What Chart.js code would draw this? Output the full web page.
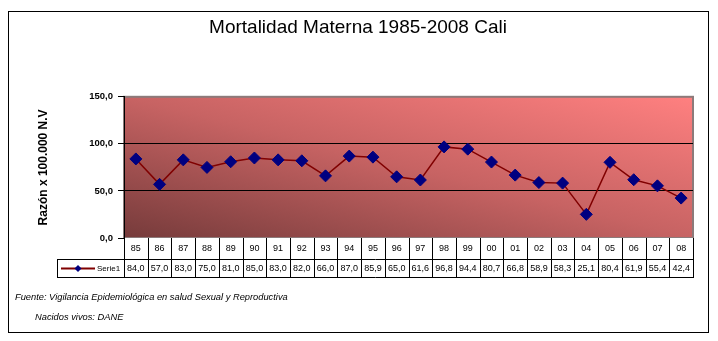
<!DOCTYPE html>
<html>
<head>
<meta charset="utf-8">
<title>Mortalidad Materna 1985-2008 Cali</title>
<script src="https://cdn.jsdelivr.net/npm/chart.js@4"></script>
<style>
  html, body { margin: 0; padding: 0; background: #fff; }
  #wrap { width: 718px; height: 341px; }
</style>
</head>
<body>
<div id="wrap"><canvas id="mortalidadChart" width="718" height="341"></canvas></div>
<script>
// Datos
const anios = ['85','86','87','88','89','90','91','92','93','94','95','96','97','98','99','00','01','02','03','04','05','06','07','08'];
const serie1 = [84.0, 57.0, 83.0, 75.0, 81.0, 85.0, 83.0, 82.0, 66.0, 87.0, 85.9, 65.0, 61.6, 96.8, 94.4, 80.7, 66.8, 58.9, 58.3, 25.1, 80.4, 61.9, 55.4, 42.4];
const ticksY = [0, 50, 100, 150];
const nombreSerie = 'Serie1';
const notas = ['Fuente: Vigilancia Epidemiológica en salud Sexual y Reproductiva', 'Nacidos vivos: DANE'];

function formatoComa(v) {
    return v.toFixed(1).replace('.', ',');
}

// fondo degradado del area de trazado + marco exterior
const fondoPlugin = {
    id: 'fondo',
    beforeDraw(chart) {
        const ctx = chart.ctx;
        const a = chart.chartArea;
        ctx.save();
        ctx.strokeStyle = '#000';
        ctx.lineWidth = 1;
        ctx.strokeRect(8.5, 11.5, 700, 321);

        ctx.save();
        ctx.translate(a.left, a.top);
        ctx.scale(a.right - a.left, a.bottom - a.top);
        let grad = ctx.createLinearGradient(0, 1, 1, 0);
        grad.addColorStop(0, '#763b3b');
        grad.addColorStop(0.5, '#c76363');
        grad.addColorStop(1, '#ff8080');
        ctx.fillStyle = grad;
        ctx.fillRect(0, 0, 1, 1);
        ctx.restore();

        ctx.strokeStyle = '#8c7a7a';
        ctx.lineWidth = 2;
        ctx.strokeRect(a.left, a.top, a.right - a.left, a.bottom - a.top);
        ctx.restore();
    }
};

// tabla de datos debajo del grafico
const tablaPlugin = {
    id: 'tabla',
    afterDraw(chart) {
        const ctx = chart.ctx;
        const a = chart.chartArea;
        const x = chart.scales.x;
        const filaCat = a.bottom;
        const filaVal = a.bottom + 21;
        const fin = a.bottom + 39;
        const leyIzq = 57;

        let bordes = [a.left];
        for (let i = 1; i < anios.length; i++) {
            bordes.push(Math.round((x.getPixelForValue(i - 1) + x.getPixelForValue(i)) / 2));
        }
        bordes.push(a.right);

        ctx.save();
        ctx.fillStyle = '#fff';
        ctx.fillRect(a.left, filaCat, a.right - a.left, fin - filaCat);
        ctx.fillRect(leyIzq, filaVal, a.left - leyIzq, fin - filaVal);

        ctx.strokeStyle = '#000';
        ctx.lineWidth = 1;
        ctx.beginPath();
        for (let b of bordes) {
            ctx.moveTo(Math.round(b) + 0.5, filaCat);
            ctx.lineTo(Math.round(b) + 0.5, fin);
        }
        ctx.moveTo(leyIzq + 0.5, filaVal);
        ctx.lineTo(leyIzq + 0.5, fin);
        ctx.moveTo(leyIzq, filaVal + 0.5);
        ctx.lineTo(a.right + 1, filaVal + 0.5);
        ctx.moveTo(leyIzq, fin + 0.5);
        ctx.lineTo(a.right + 1, fin + 0.5);
        ctx.stroke();

        ctx.fillStyle = '#000';
        ctx.font = '9px "Liberation Sans", Arial, sans-serif';
        ctx.textAlign = 'center';
        ctx.textBaseline = 'middle';
        for (let i = 0; i < anios.length; i++) {
            let cx = x.getPixelForValue(i);
            ctx.fillText(anios[i], cx, filaCat + 11);
            ctx.fillText(formatoComa(serie1[i]), cx, filaVal + 9.5);
        }

        // clave de leyenda
        let ly = filaVal + 9.5;
        ctx.strokeStyle = '#800000';
        ctx.lineWidth = 2;
        ctx.beginPath();
        ctx.moveTo(leyIzq + 4, ly);
        ctx.lineTo(leyIzq + 38, ly);
        ctx.stroke();
        ctx.fillStyle = '#000080';
        ctx.beginPath();
        ctx.moveTo(leyIzq + 21, ly - 3.5);
        ctx.lineTo(leyIzq + 24.5, ly);
        ctx.lineTo(leyIzq + 21, ly + 3.5);
        ctx.lineTo(leyIzq + 17.5, ly);
        ctx.closePath();
        ctx.fill();
        ctx.fillStyle = '#000';
        ctx.font = '8px "Liberation Sans", Arial, sans-serif';
        ctx.textAlign = 'left';
        ctx.fillText(nombreSerie, leyIzq + 40, ly + 0.5);

        // notas al pie
        ctx.font = 'italic 9.3px "Liberation Sans", Arial, sans-serif';
        ctx.textBaseline = 'alphabetic';
        ctx.fillText(notas[0], 15, 300);
        ctx.fillText(notas[1], 35, 320);
        ctx.restore();
    }
};

let ctx = document.getElementById('mortalidadChart').getContext('2d');
let chart = new Chart(ctx, {
    type: 'line',
    data: {
        labels: anios,
        datasets: [
            {
                label: nombreSerie,
                data: serie1,
                borderColor: '#800000',
                borderWidth: 1.5,
                tension: 0,
                fill: false,
                pointStyle: 'rectRot',
                pointRadius: 6,
                pointBackgroundColor: '#000080',
                pointBorderColor: '#000080',
                pointBorderWidth: 1
            }
        ]
    },
    options: {
        responsive: false,
        animation: false,
        layout: {
            padding: { left: 23, right: 25, top: 0, bottom: 103 }
        },
        plugins: {
            legend: { display: false },
            tooltip: { enabled: false },
            title: {
                display: true,
                text: 'Mortalidad Materna 1985-2008 Cali',
                color: '#000',
                font: { family: '"Liberation Sans Narrow", "Liberation Sans", Arial, sans-serif', size: 19, weight: 'normal' },
                padding: { top: 16, bottom: 58 }
            }
        },
        scales: {
            x: {
                display: false,
                offset: true
            },
            y: {
                min: 0,
                max: 150,
                afterBuildTicks(scale) {
                    scale.ticks = ticksY.map(v => ({ value: v }));
                },
                afterFit(scale) {
                    scale.width = 101;
                },
                ticks: {
                    color: '#000',
                    padding: 5,
                    font: { family: '"Liberation Sans", Arial, sans-serif', size: 9.5, weight: 'bold' },
                    callback: v => formatoComa(v)
                },
                grid: {
                    color: c => (c.tick && (c.tick.value === 50 || c.tick.value === 100)) ? '#000' : 'rgba(0,0,0,0)',
                    tickColor: '#000',
                    tickLength: 6,
                    lineWidth: 1
                },
                border: { display: true, color: '#000', width: 1 },
                title: {
                    display: true,
                    text: 'Razón x 100.000 N.V',
                    color: '#000',
                    font: { family: '"Liberation Sans", Arial, sans-serif', size: 12, weight: 'bold' },
                    padding: { top: 13, bottom: 0 }
                }
            }
        }
    },
    plugins: [fondoPlugin, tablaPlugin]
});
</script>
</body>
</html>
